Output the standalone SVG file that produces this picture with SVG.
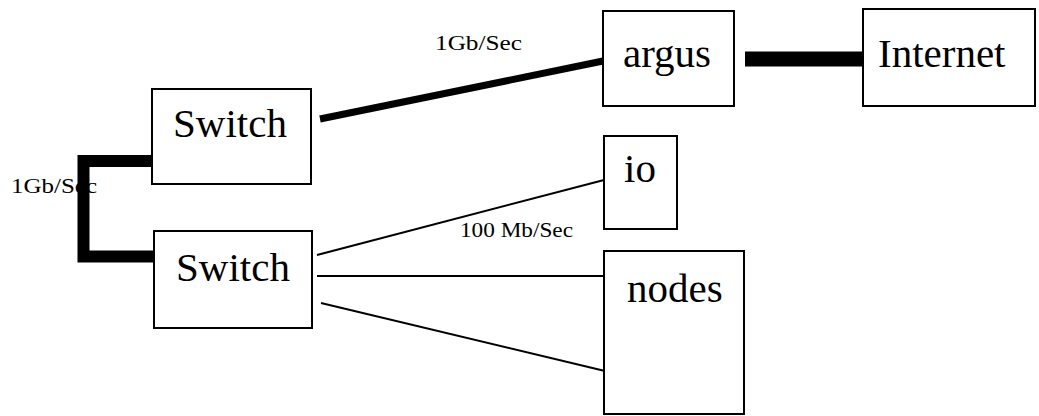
<svg xmlns="http://www.w3.org/2000/svg" width="1039" height="416" viewBox="0 0 1039 416">
<style>
.box{fill:#fff;stroke:#000;stroke-width:2}
.lbl{font-family:"Liberation Serif","Times New Roman",serif;font-size:41px;fill:#000}
.small{font-family:"Liberation Serif","Times New Roman",serif;font-size:21px;fill:#000}
.thick{fill:none;stroke:#000;stroke-linecap:butt;stroke-linejoin:miter}
.thin{fill:none;stroke:#000;stroke-width:2}
</style>
<rect width="1039" height="416" fill="#fff"/>
<g id="connectors">
<text class="small" x="435" y="50" textLength="87" lengthAdjust="spacingAndGlyphs">1Gb/Sec</text>
<text class="small" x="11" y="193" textLength="86" lengthAdjust="spacingAndGlyphs">1Gb/Sec</text>
<text class="small" x="460" y="237" textLength="113" lengthAdjust="spacingAndGlyphs">100 Mb/Sec</text>
<polyline class="thick" stroke-width="12" points="154,161 83.5,161 83.5,256.5 154,256.5"/>
<line class="thick" stroke-width="7" x1="320" y1="119" x2="603" y2="61"/>
<line class="thick" stroke-width="15" x1="745" y1="59" x2="863" y2="59"/>
<line class="thin" x1="317" y1="255" x2="604" y2="180"/>
<line class="thin" x1="317" y1="276" x2="604" y2="276"/>
<line class="thin" x1="321" y1="303" x2="605" y2="371"/>
</g>
<g id="switch1">
<rect class="box" x="152" y="89" width="159" height="95"/>
<text class="lbl" x="173" y="137">Switch</text>
</g>
<g id="switch2">
<rect class="box" x="154" y="231" width="158" height="97"/>
<text class="lbl" x="176" y="281">Switch</text>
</g>
<g id="argus">
<rect class="box" x="603" y="11" width="131" height="95"/>
<text class="lbl" x="623" y="67">argus</text>
</g>
<g id="internet">
<rect class="box" x="863" y="9" width="172" height="97"/>
<text class="lbl" x="878" y="67">Internet</text>
</g>
<g id="io">
<rect class="box" x="604" y="136" width="73" height="93"/>
<text class="lbl" x="624" y="182">io</text>
</g>
<g id="nodes">
<rect class="box" x="604" y="251" width="140" height="163"/>
<text class="lbl" x="627" y="302">nodes</text>
</g>
</svg>
